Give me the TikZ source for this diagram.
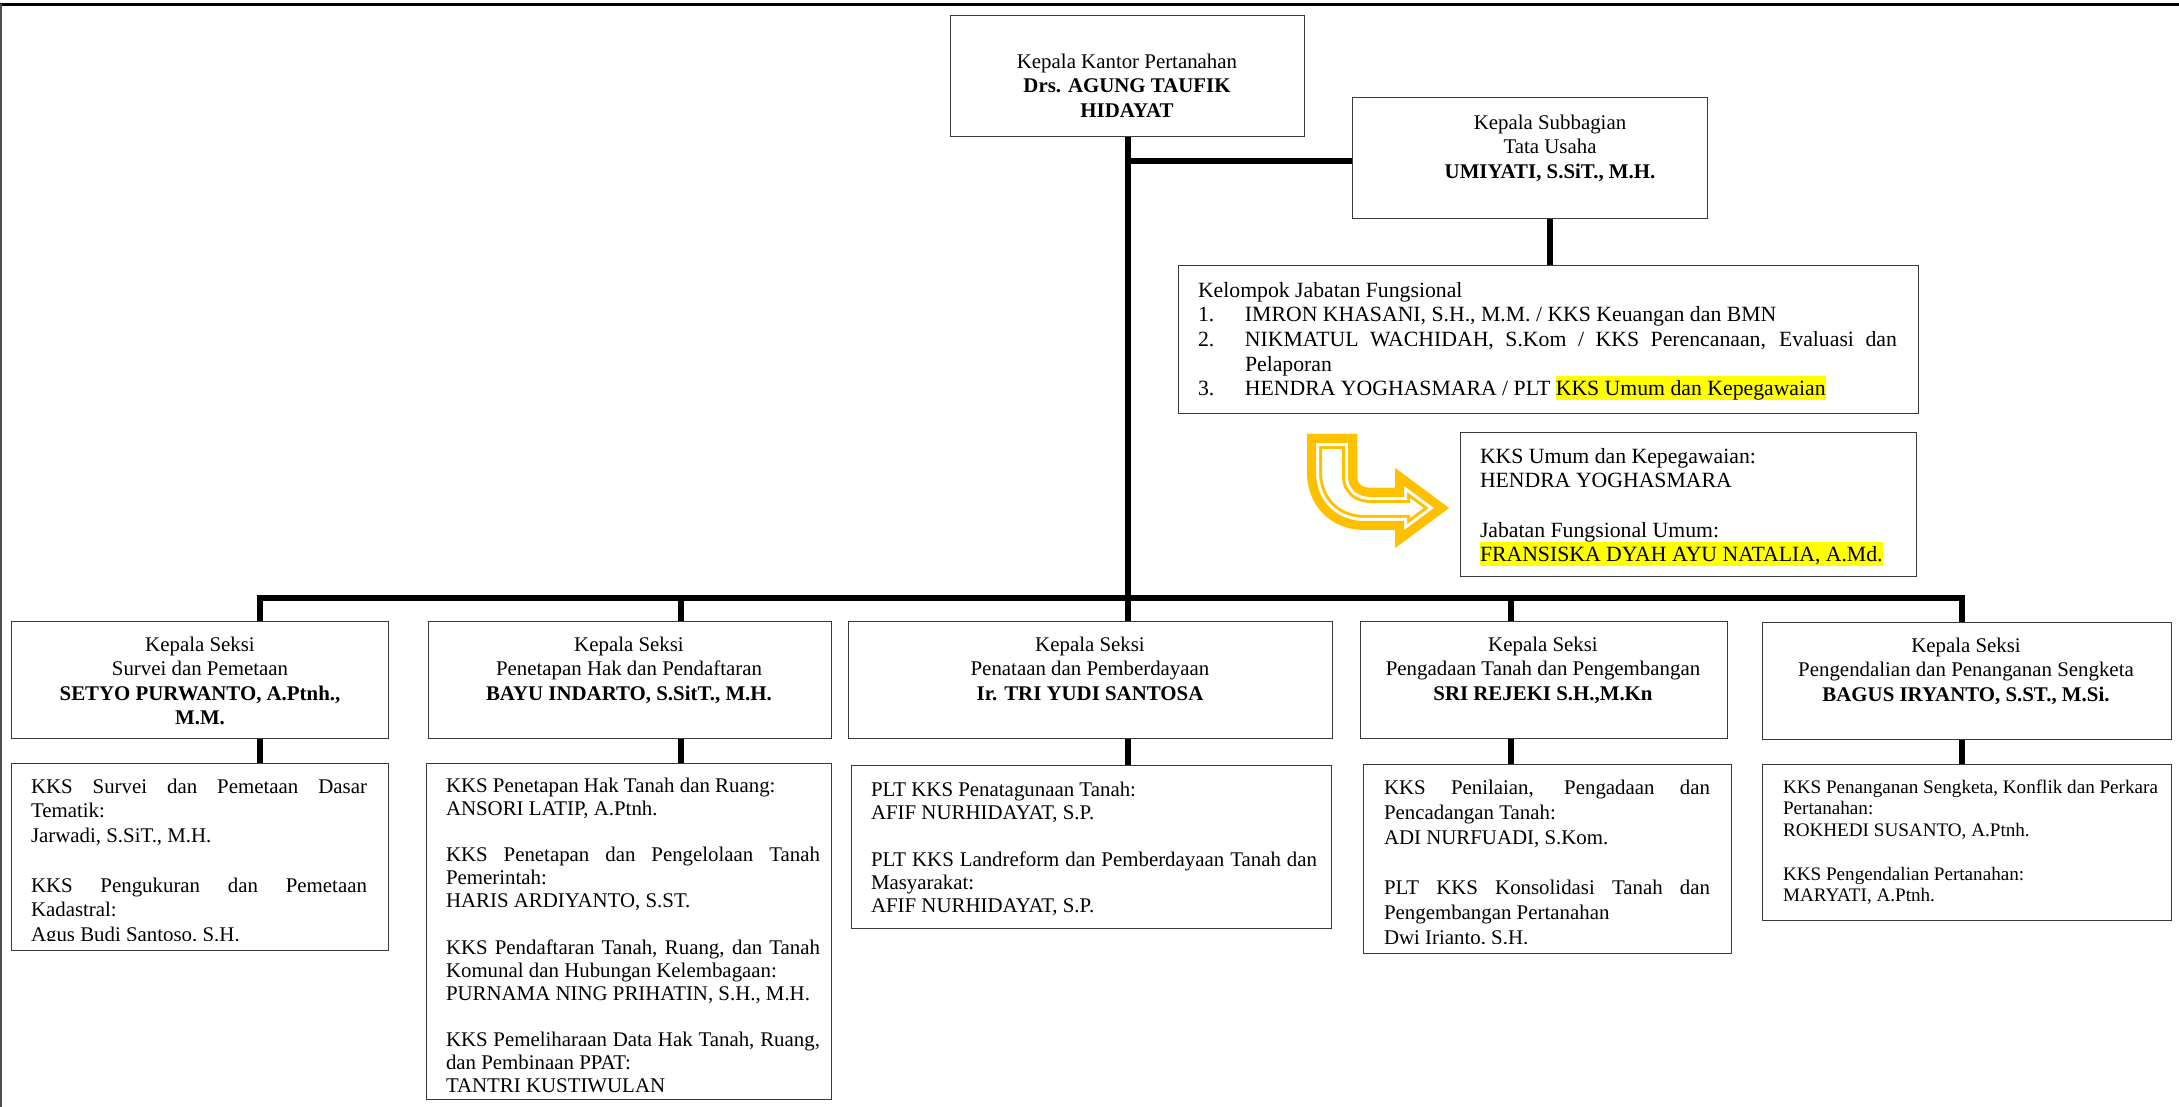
\documentclass[tikz,border=0pt]{standalone}
\usepackage{fontspec}
\setmainfont{Liberation Serif}
\definecolor{gold}{HTML}{FFC000}
\definecolor{hly}{HTML}{FFFF00}
\definecolor{bordc}{HTML}{3A3A3A}
\newlength\pu \setlength\pu{0.575pt}
\newcommand\hlt[1]{{\setlength{\fboxsep}{0pt}\colorbox{hly}{\rule[-0.216em]{0pt}{1.107em}#1}}}
\newcommand\fs[2]{\fontsize{#1}{#2}\selectfont\parindent=0pt\parskip=0pt\hyphenpenalty=10000\exhyphenpenalty=10000\tolerance=10000\pretolerance=-1\emergencystretch=0pt}
\tikzset{
  boxst/.style={draw=bordc, line width=0.8pt, fill=white, inner sep=0pt, anchor=north west},
  conn/.style={line width=3.4pt, black},
  txt/.style={inner sep=0pt, outer sep=0pt},
}
\newcommand\bx[5]{\node[boxst, minimum width={(#4-#2)*0.575pt}, minimum height={(#5-#3)*0.575pt}] (#1) at (#2,#3) {};}
\begin{document}
\begin{tikzpicture}[x=0.575pt, y=-0.575pt]
\useasboundingbox (0,0) rectangle (2179,1107);
% ---------- boxes ----------
\bx{top}{950}{15}{1304}{136}
\bx{sub}{1352}{97}{1707}{218}
\bx{kel}{1178}{265}{1918}{413}
\bx{umum}{1460}{432}{1916}{576}
\bx{s1}{11}{621}{388}{738}
\bx{s2}{428}{621}{831}{738}
\bx{s3}{848}{621}{1332}{738}
\bx{s4}{1360}{621}{1727}{738}
\bx{s5}{1762}{622}{2171}{739}
\bx{b1}{11}{763}{388}{950}
\bx{b2}{426}{763}{831}{1099}
\bx{b3}{851}{765}{1331}{928}
\bx{b4}{1363}{764}{1731}{953}
\bx{b5}{1762}{764}{2171}{920}
% ---------- connectors ----------
\coordinate (br) at (1127,161);
\coordinate (sk) at (1550,0);
\coordinate (d1) at (260,598);
\coordinate (d2) at (681,598);
\coordinate (d4) at (1511,598);
\coordinate (d5) at (1962,598);
\draw[conn] (top.south) -- (top.south |- s3.north);
\draw[conn] (br) -- (br -| sub.west);
\draw[conn] (sk |- sub.south) -- (sk |- kel.north);
\draw[conn, line cap=rect] (d1) -- (d5);
\foreach \d/\s/\b in {d1/s1/b1, d2/s2/b2, d4/s4/b4, d5/s5/b5}{
  \draw[conn] (\d) -- (\d |- \s.north);
  \draw[conn] (\d |- \s.south) -- (\d |- \b.north);
}
\draw[conn] (top.south |- s3.south) -- (top.south |- b3.north);
% ---------- top texts ----------
\node[txt, anchor=north] (ttop) at (1127,51) {\begin{minipage}[t]{340\pu}\centering\fs{12}{14.1}\strut Kepala Kantor Pertanahan\\ \textbf{Drs. AGUNG TAUFIK}\\ \textbf{HIDAYAT}\end{minipage}};
\node[txt, anchor=north] (tsub) at (1550,112) {\begin{minipage}[t]{330\pu}\centering\fs{12}{14.1}\strut Kepala Subbagian\\ Tata Usaha\\ \textbf{UMIYATI, S.SiT., M.H.}\end{minipage}};
\node[txt, anchor=north west] (tkel) at (1198,280) {\begin{minipage}[t]{699\pu}\fs{12.5}{14.15}%
\strut Kelompok Jabatan Fungsional\par
\hangindent=47\pu\hangafter=1\makebox[47\pu][l]{1.}IMRON KHASANI, S.H., M.M. / KKS Keuangan dan BMN\par
\hangindent=47\pu\hangafter=1\makebox[47\pu][l]{2.}NIKMATUL WACHIDAH, S.Kom / KKS Perencanaan, Evaluasi dan Pelaporan\par
\hangindent=47\pu\hangafter=1\makebox[47\pu][l]{3.}HENDRA YOGHASMARA / PLT \hlt{KKS Umum dan Kepegawaian}\par
\end{minipage}};
\node[txt, anchor=north west] (tumum) at (1480,446) {\begin{minipage}[t]{425\pu}\raggedright\fs{12.5}{14.15}%
\strut KKS Umum dan Kepegawaian:\par
HENDRA YOGHASMARA\par
\strut\par
Jabatan Fungsional Umum:\par
\hlt{FRANSISKA DYAH AYU NATALIA, A.Md.}\par
\end{minipage}};
% ---------- level 2 texts ----------
\node[txt, anchor=north] (ts1) at (200,634) {\begin{minipage}[t]{360\pu}\centering\fs{12}{14.1}\strut Kepala Seksi\\ Survei dan Pemetaan\\ \textbf{SETYO PURWANTO, A.Ptnh.,}\\ \textbf{M.M.}\end{minipage}};
\node[txt, anchor=north] (ts2) at (629,634) {\begin{minipage}[t]{390\pu}\centering\fs{12}{14.1}\strut Kepala Seksi\\ Penetapan Hak dan Pendaftaran\\ \textbf{BAYU INDARTO, S.SitT., M.H.}\end{minipage}};
\node[txt, anchor=north] (ts3) at (1090,634) {\begin{minipage}[t]{460\pu}\centering\fs{12}{14.1}\strut Kepala Seksi\\ Penataan dan Pemberdayaan\\ \textbf{Ir. TRI YUDI SANTOSA}\end{minipage}};
\node[txt, anchor=north] (ts4) at (1543,634) {\begin{minipage}[t]{360\pu}\centering\fs{12}{14.1}\strut Kepala Seksi\\ Pengadaan Tanah dan Pengembangan\\ \textbf{SRI REJEKI S.H.,M.Kn}\end{minipage}};
\node[txt, anchor=north] (ts5) at (1966,635) {\begin{minipage}[t]{400\pu}\centering\fs{12}{14.1}\strut Kepala Seksi\\ Pengendalian dan Penanganan Sengketa\\ \textbf{BAGUS IRYANTO, S.ST., M.Si.}\end{minipage}};
% ---------- level 3 texts ----------
\begin{scope}
\clip (11,763) rectangle (388,940);
\node[txt, anchor=north west] (tb1) at (31,776) {\begin{minipage}[t]{336\pu}\fs{12}{14.2}%
\strut KKS Survei dan Pemetaan Dasar Tematik:\par
Jarwadi, S.SiT., M.H.\par
\strut\par
KKS Pengukuran dan Pemetaan Kadastral:\par
Agus Budi Santoso, S.H.\par
\end{minipage}};
\end{scope}
\node[txt, anchor=north west] (tb2) at (446,776) {\begin{minipage}[t]{374\pu}\fs{12}{13.3}%
\strut KKS Penetapan Hak Tanah dan Ruang:\par
ANSORI LATIP, A.Ptnh.\par
\strut\par
KKS Penetapan dan Pengelolaan Tanah Pemerintah:\par
HARIS ARDIYANTO, S.ST.\par
\strut\par
KKS Pendaftaran Tanah, Ruang, dan Tanah Komunal dan Hubungan Kelembagaan:\par
PURNAMA NING PRIHATIN, S.H., M.H.\par
\strut\par
KKS Pemeliharaan Data Hak Tanah, Ruang, dan Pembinaan PPAT:\par
TANTRI KUSTIWULAN\par
\end{minipage}};
\node[txt, anchor=north west] (tb3) at (871,780) {\begin{minipage}[t]{446\pu}\fs{12}{13.4}%
\strut PLT KKS Penatagunaan Tanah:\par
AFIF NURHIDAYAT, S.P.\par
\strut\par
PLT KKS Landreform dan Pemberdayaan Tanah dan Masyarakat:\par
AFIF NURHIDAYAT, S.P.\par
\end{minipage}};
\begin{scope}
\clip (1363,764) rectangle (1731,943);
\node[txt, anchor=north west] (tb4) at (1384,777) {\begin{minipage}[t]{326\pu}\fs{12}{14.4}%
\strut KKS Penilaian, Pengadaan dan Pencadangan Tanah:\par
ADI NURFUADI, S.Kom.\par
\strut\par
PLT KKS Konsolidasi Tanah dan Pengembangan Pertanahan\par
Dwi Irianto, S.H.\par
\end{minipage}};
\end{scope}
\node[txt, anchor=north west] (tb5) at (1783,778) {\begin{minipage}[t]{375\pu}\fs{11}{12.5}%
\strut KKS Penanganan Sengketa, Konflik dan Perkara Pertanahan:\par
ROKHEDI SUSANTO, A.Ptnh.\par
\strut\par
KKS Pengendalian Pertanahan:\par
MARYATI, A.Ptnh.\par
\end{minipage}};
% ---------- gold bent arrow ----------
\begin{scope}
\clip (1307,434) -- (1357,434) -- (1357,476) .. controls (1357,484) and (1362,488) .. (1372,488) -- (1395,488) -- (1395,468) -- (1449,508) -- (1395,548) -- (1395,530) -- (1365,530) .. controls (1330,530) and (1307,505) .. (1307,472) -- cycle;
\draw[gold, line width=17.25pt, line join=miter] (1307,434) -- (1357,434) -- (1357,476) .. controls (1357,484) and (1362,488) .. (1372,488) -- (1395,488) -- (1395,468) -- (1449,508) -- (1395,548) -- (1395,530) -- (1365,530) .. controls (1330,530) and (1307,505) .. (1307,472) -- cycle;
\draw[white, line width=13.8pt, line join=miter] (1307,434) -- (1357,434) -- (1357,476) .. controls (1357,484) and (1362,488) .. (1372,488) -- (1395,488) -- (1395,468) -- (1449,508) -- (1395,548) -- (1395,530) -- (1365,530) .. controls (1330,530) and (1307,505) .. (1307,472) -- cycle;
\draw[gold, line width=10.35pt, line join=miter] (1307,434) -- (1357,434) -- (1357,476) .. controls (1357,484) and (1362,488) .. (1372,488) -- (1395,488) -- (1395,468) -- (1449,508) -- (1395,548) -- (1395,530) -- (1365,530) .. controls (1330,530) and (1307,505) .. (1307,472) -- cycle;
\end{scope}
% ---------- page frame ----------
\draw[black, line width=1.4pt] (0,4.5) -- (2179,4.5);
\draw[black!70, line width=1pt] (0.9,4.5) -- (0.9,1107);
\end{tikzpicture}
\end{document}
